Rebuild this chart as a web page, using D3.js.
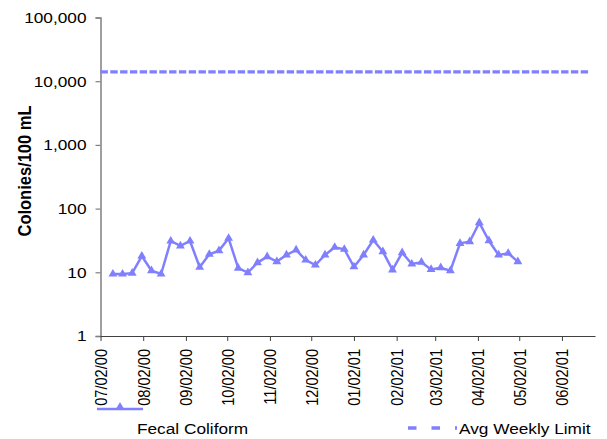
<!DOCTYPE html>
<html>
<head>
<meta charset="utf-8">
<script src="https://cdn.jsdelivr.net/npm/d3@7"></script>
<style>
  body { margin: 0; background: #fff; }
  svg text { font-family: "Liberation Sans", Arial, sans-serif; fill: #000; }
</style>
</head>
<body>
<script>
// Weekly sample dates and fecal coliform counts (colonies/100 mL)
var sampleDates = [
  "07/11/00", "07/18/00", "07/25/00", "08/01/00", "08/08/00", "08/15/00", "08/22/00",
  "08/29/00", "09/05/00", "09/12/00", "09/19/00", "09/26/00", "10/03/00", "10/10/00",
  "10/17/00", "10/24/00", "10/31/00", "11/07/00", "11/14/00", "11/21/00", "11/28/00",
  "12/05/00", "12/12/00", "12/19/00", "12/26/00", "01/02/01", "01/09/01", "01/16/01",
  "01/23/01", "01/30/01", "02/06/01", "02/13/01", "02/20/01", "02/27/01", "03/06/01",
  "03/13/01", "03/20/01", "03/27/01", "04/03/01", "04/10/01", "04/17/01", "04/24/01",
  "05/01/01"
]
var fecalColiform = [
  9.4, 9.4, 9.7, 18, 10.6, 9.4, 31, 26, 31, 12, 19.2, 21.9, 34.2, 11.6,
  9.9, 14.2, 17.6, 14.7, 18.7, 22.4, 15.6, 13, 18.7, 24.7, 23, 12.2, 18.7, 32.1,
  21.1, 10.9, 20.3, 13.5, 14.4, 11.1, 11.8, 10.6, 28.5, 30.2, 60.1, 31.3, 18.7, 19.9,
  14.7
]
var avgWeeklyLimit = 14000

var xTickLabels = ["07/02/00", "08/02/00", "09/02/00", "10/02/00", "11/02/00", "12/02/00",
  "01/02/01", "02/02/01", "03/02/01", "04/02/01", "05/02/01", "06/02/01"]
var yTickValues = [1, 10, 100, 1000, 10000, 100000]
var xDomain = ["07/02/00", "06/26/01"]

var w = 607
var h = 439
var plotL = 100.5      // plot area edges
var plotR = 595
var plotT = 17.5
var plotB = 336
var lineColor = "#8080ff"
var stretch = "scale(1.15,1)"   // the original picture is a bit wider than tall

var parse = d3.timeParse("%m/%d/%y")

var svg = d3.select("body").append("svg")
  .attr("width", w)
  .attr("height", h)

var x = d3.scaleTime()
  .domain(xDomain.map(parse))
  .range([plotL, plotR])

var y = d3.scaleLog()
  .domain([1, 100000])
  .range([plotB, plotT])

// Y axis
var yAxis = svg.append("g")
  .attr("transform", "translate(" + plotL + ",0)")
  .call(d3.axisLeft(y)
    .tickValues(yTickValues)
    .tickFormat(d3.format(","))
    .tickSize(5))
yAxis.select(".domain").attr("stroke", "#808080").attr("stroke-width", 1.5)
yAxis.selectAll(".tick line").attr("stroke", "#808080").attr("stroke-width", 1.2)
yAxis.selectAll("text")
  .attr("font-size", "15px")
  .attr("font-family", "Liberation Sans, Arial, sans-serif")
  .attr("x", 0)
  .attr("transform", "translate(-14,0) " + stretch)

// X axis
var xAxis = svg.append("g")
  .attr("transform", "translate(0," + plotB + ")")
  .call(d3.axisBottom(x)
    .tickValues(xTickLabels.map(parse))
    .tickFormat(d3.timeFormat("%m/%d/%y"))
    .tickSizeInner(5)
    .tickSizeOuter(0))
xAxis.select(".domain").attr("stroke", "#404040").attr("stroke-width", 1)
xAxis.selectAll(".tick line").attr("stroke", "#404040")
xAxis.selectAll("text")
  .attr("font-size", "14.6px")
  .attr("font-family", "Liberation Sans, Arial, sans-serif")
  .attr("transform", stretch + " rotate(-90)")
  .attr("text-anchor", "end")
  .attr("x", -13)
  .attr("y", 0)
  .attr("dy", "0.35em")

// Avg weekly limit
svg.append("line")
  .attr("x1", plotL)
  .attr("x2", 590)
  .attr("y1", y(avgWeeklyLimit))
  .attr("y2", y(avgWeeklyLimit))
  .attr("stroke", lineColor)
  .attr("stroke-width", 3.3)
  .attr("stroke-dasharray", "7.4,2.4")

// Fecal coliform series
var points = sampleDates.map(function (d, i) { return [parse(d), fecalColiform[i]] })

svg.append("path")
  .datum(points)
  .attr("fill", "none")
  .attr("stroke", lineColor)
  .attr("stroke-width", 2.5)
  .attr("d", d3.line()
    .x(function (d) { return x(d[0]) })
    .y(function (d) { return y(d[1]) }))

var tri = d3.symbol().type(d3.symbolTriangle).size(34)

svg.selectAll("path.marker")
  .data(points)
  .enter()
  .append("path")
  .attr("class", "marker")
  .attr("d", tri)
  .attr("fill", lineColor)
  .attr("transform", function (d) { return "translate(" + x(d[0]) + "," + y(d[1]) + ")" })

// Y axis title
svg.append("text")
  .attr("transform", "translate(24,171) " + stretch + " rotate(-90)")
  .attr("text-anchor", "middle")
  .attr("dy", "0.35em")
  .attr("font-size", "16.5px")
  .attr("font-weight", "bold")
  .text("Colonies/100 mL")

// Legend
var legend = svg.append("g").attr("font-size", "15px")

legend.append("line")
  .attr("x1", 97).attr("x2", 143)
  .attr("y1", 409).attr("y2", 409)
  .attr("stroke", lineColor)
  .attr("stroke-width", 2.5)
legend.append("path")
  .attr("d", tri)
  .attr("fill", lineColor)
  .attr("transform", "translate(120,407)")
legend.append("text")
  .attr("transform", "translate(137,434) " + stretch)
  .text("Fecal Coliform")

legend.append("line")
  .attr("x1", 408).attr("x2", 457)
  .attr("y1", 428).attr("y2", 428)
  .attr("stroke", lineColor)
  .attr("stroke-width", 3.3)
  .attr("stroke-dasharray", "8.5,15")
legend.append("text")
  .attr("transform", "translate(459,434) " + stretch)
  .text("Avg Weekly Limit")
</script>
</body>
</html>
